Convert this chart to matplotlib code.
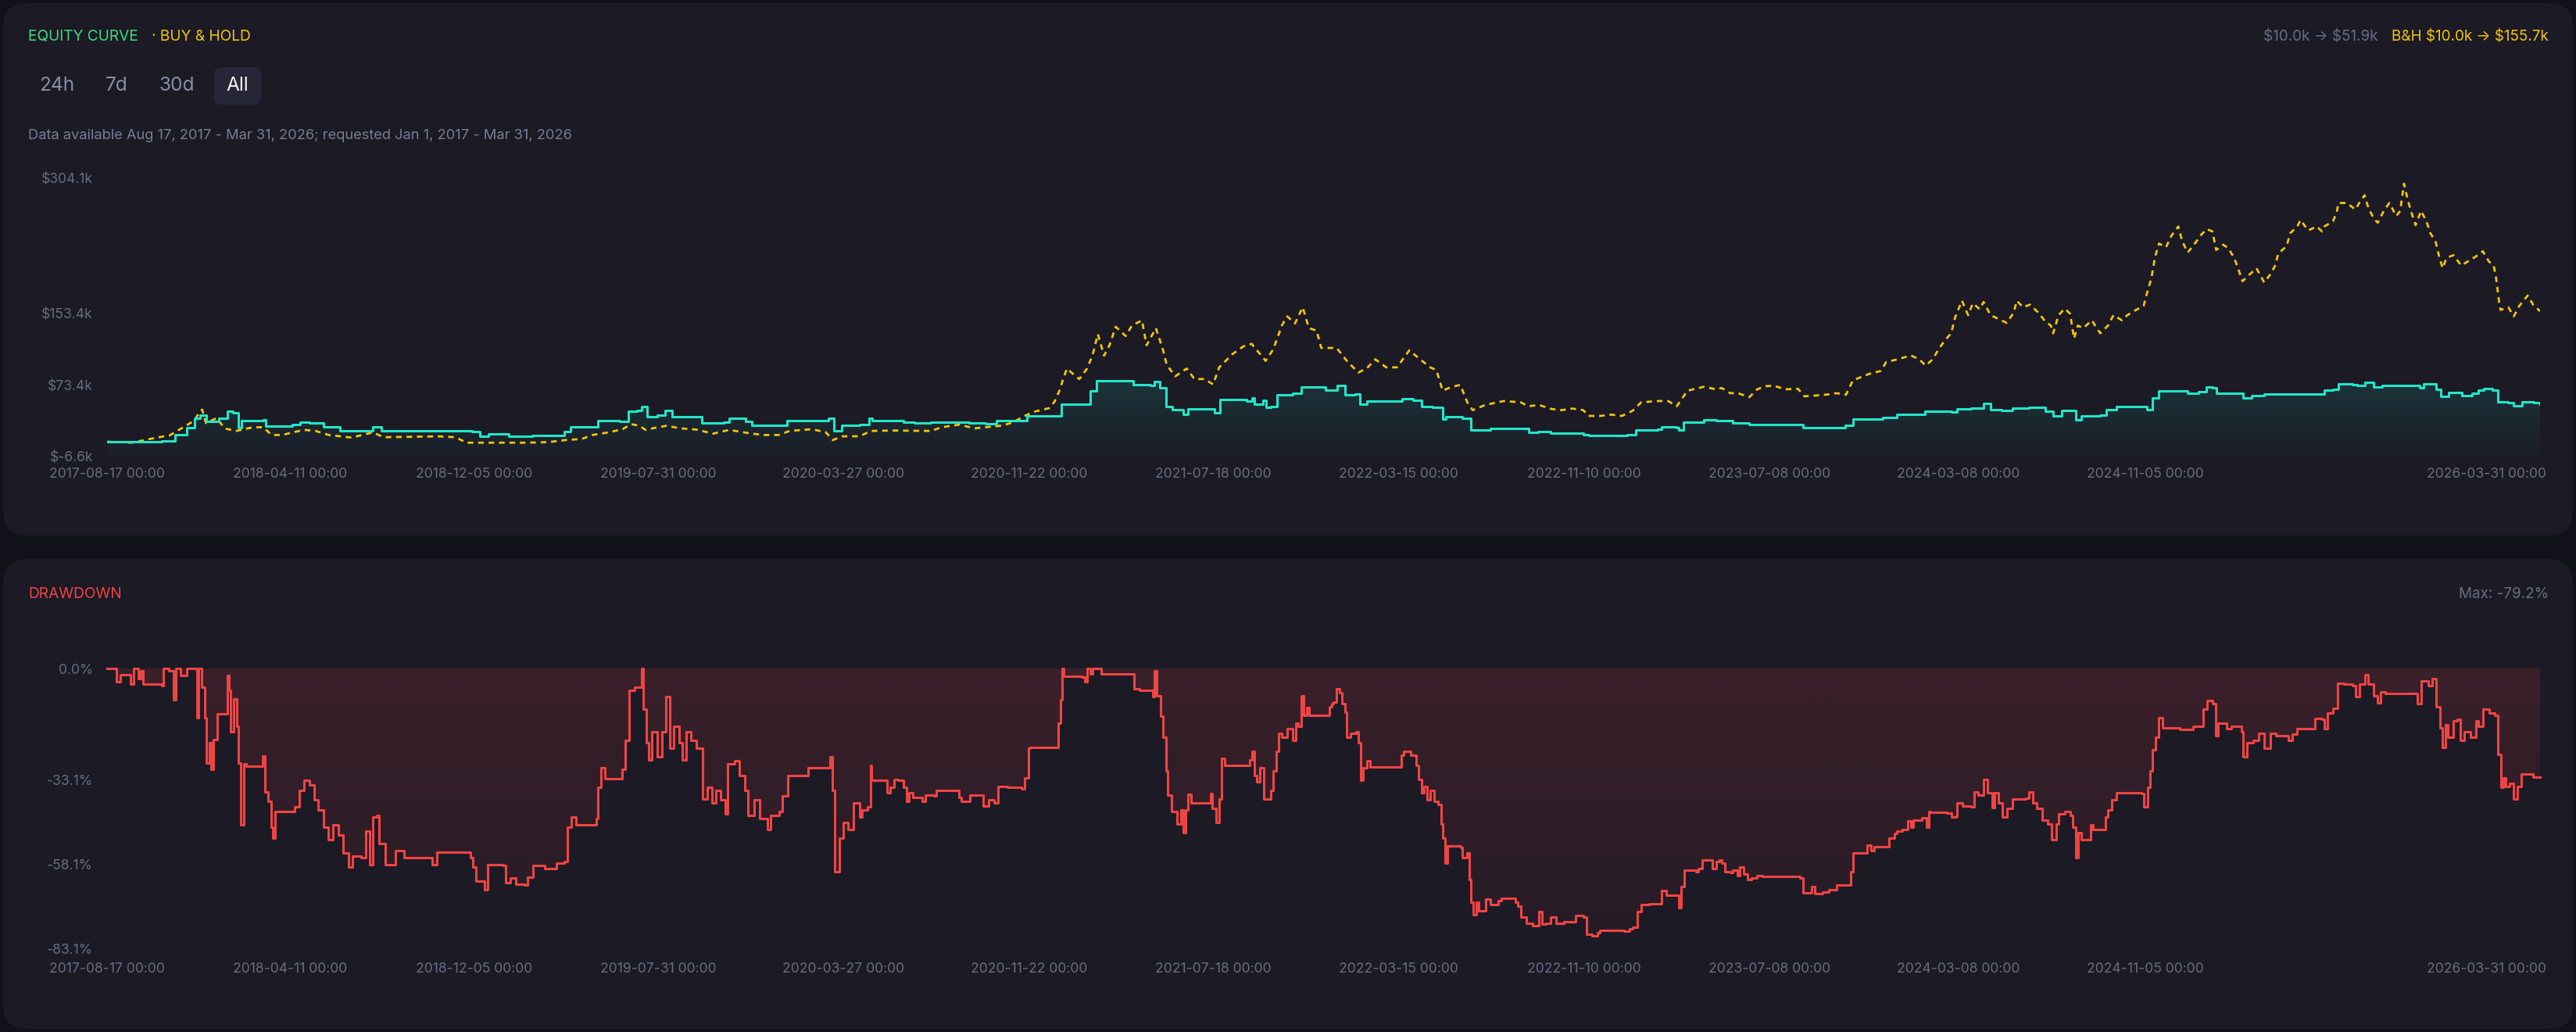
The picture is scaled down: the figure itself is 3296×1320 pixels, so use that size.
import numpy as np
import matplotlib
matplotlib.use('Agg')
import matplotlib.pyplot as plt
import matplotlib.dates as mdates
import matplotlib.colors as mcolors
import matplotlib.transforms as mtransforms
from matplotlib.patches import FancyBboxPatch, PathPatch

plt.rcParams['font.family'] = ['Inter', 'DejaVu Sans']
plt.rcParams['text.parse_math'] = False

# ---- data (days since first bar) ----
START = '2017-08-17'

eq_days = [0, 71, 88, 103, 113, 120, 128, 145, 156, 163,
           170, 174, 202, 205, 240, 250, 262, 280, 301, 330,
           344, 355, 422, 472, 482, 493, 511, 520, 550, 592,
           600, 631, 635, 663, 674, 686, 692, 699, 712, 722,
           731, 763, 770, 798, 805, 826, 834, 862, 880, 933,
           940, 951, 974, 986, 990, 1016, 1030, 1045, 1066, 1094,
           1115, 1137, 1151, 1179, 1190, 1225, 1235, 1264, 1272, 1280,
           1325, 1328, 1350, 1355, 1362, 1370, 1378, 1392, 1399, 1421,
           1433, 1440, 1474, 1481, 1485, 1496, 1500, 1506, 1514, 1534,
           1545, 1577, 1592, 1602, 1615, 1621, 1630, 1673, 1676, 1690,
           1701, 1715, 1728, 1732, 1754, 1765, 1790, 1825, 1839, 1852,
           1868, 1896, 1910, 1917, 1967, 1978, 2006, 2011, 2031, 2034,
           2040, 2055, 2066, 2082, 2103, 2125, 2188, 2194, 2224, 2249,
           2259, 2298, 2316, 2352, 2387, 2394, 2412, 2428, 2437, 2451,
           2465, 2487, 2508, 2518, 2529, 2540, 2547, 2554, 2579, 2587,
           2600, 2632, 2639, 2646, 2655, 2692, 2706, 2716, 2724, 2729,
           2756, 2764, 2775, 2791, 2834, 2869, 2880, 2887, 2905, 2911,
           2921, 2933, 2944, 2987, 2992, 2997, 3008, 3013, 3020, 3030,
           3040, 3047, 3060, 3068, 3075, 3086, 3093, 3107, 3114, 3125,
           3140, 3148]
eq_vals = [10.0, 11.0, 17.5, 26.0, 36.0, 40.0, 33.0, 36.0, 43.7, 42.0,
           26.0, 33.5, 34.0, 27.8, 29.0, 31.5, 31.0, 26.2, 22.3, 22.5,
           26.7, 22.0, 22.0, 21.5, 16.1, 19.0, 19.0, 16.5, 17.3, 21.5,
           26.2, 26.2, 33.5, 32.5, 43.8, 45.0, 49.5, 38.3, 40.0, 45.3,
           38.0, 38.0, 30.8, 32.0, 36.0, 33.0, 28.5, 28.5, 33.8, 35.8,
           22.4, 28.0, 29.0, 36.4, 33.5, 33.5, 31.5, 30.8, 31.5, 31.5,
           30.8, 30.0, 33.5, 33.5, 38.6, 38.6, 51.9, 51.9, 67.0, 78.1,
           78.1, 73.5, 73.0, 77.0, 70.0, 49.6, 46.0, 40.8, 47.0, 47.0,
           42.0, 56.8, 55.4, 59.0, 52.0, 56.0, 48.1, 49.0, 62.6, 64.0,
           71.3, 67.8, 72.7, 62.6, 63.0, 51.7, 55.0, 55.0, 58.0, 56.0,
           49.6, 48.0, 35.0, 37.8, 36.4, 23.3, 24.5, 24.7, 20.3, 21.5,
           19.6, 20.0, 18.2, 16.7, 17.5, 23.3, 23.8, 26.2, 25.6, 22.7,
           31.5, 31.5, 34.0, 33.5, 30.8, 29.4, 29.4, 25.6, 26.0, 28.6,
           35.0, 37.3, 40.2, 43.7, 43.0, 46.8, 47.5, 52.8, 46.0, 44.6,
           47.5, 48.4, 44.0, 38.8, 44.5, 44.5, 34.4, 39.0, 40.0, 46.0,
           49.0, 49.0, 46.0, 58.6, 66.5, 64.4, 65.5, 71.0, 70.5, 64.4,
           64.4, 58.6, 61.5, 63.0, 63.5, 67.3, 68.5, 74.7, 74.0, 72.7,
           76.2, 71.5, 72.7, 72.7, 70.0, 74.7, 75.0, 68.2, 60.9, 65.0,
           65.0, 61.6, 64.4, 67.3, 69.3, 67.3, 54.8, 53.4, 49.9, 54.8,
           54.0, 51.9]

bh_days = [0, 32, 64, 81, 96, 113, 118, 123, 128, 142,
           152, 167, 188, 202, 213, 227, 238, 255, 270, 287,
           316, 344, 358, 429, 451, 465, 543, 571, 592, 614,
           628, 649, 667, 678, 688, 697, 706, 724, 741, 763,
           784, 805, 827, 848, 869, 883, 912, 930, 939, 951,
           974, 988, 1016, 1066, 1080, 1102, 1123, 1158, 1172, 1187,
           1201, 1219, 1226, 1233, 1237, 1242, 1248, 1258, 1268, 1275,
           1282, 1290, 1297, 1305, 1318, 1326, 1339, 1345, 1357, 1366,
           1371, 1382, 1397, 1407, 1420, 1431, 1439, 1456, 1470, 1481,
           1499, 1509, 1520, 1527, 1537, 1547, 1555, 1565, 1571, 1591,
           1604, 1619, 1630, 1641, 1655, 1669, 1685, 1697, 1712, 1720,
           1728, 1740, 1751, 1760, 1767, 1783, 1807, 1829, 1839, 1853,
           1868, 1882, 1896, 1910, 1917, 1932, 1946, 1960, 1974, 1985,
           2006, 2020, 2031, 2038, 2045, 2066, 2082, 2089, 2100, 2110,
           2125, 2135, 2146, 2157, 2171, 2188, 2196, 2210, 2224, 2238,
           2250, 2259, 2270, 2281, 2295, 2302, 2316, 2334, 2345, 2353,
           2362, 2369, 2377, 2386, 2391, 2400, 2408, 2414, 2423, 2428,
           2437, 2451, 2458, 2467, 2471, 2479, 2488, 2499, 2508, 2515,
           2518, 2525, 2533, 2540, 2545, 2550, 2557, 2568, 2579, 2589,
           2596, 2607, 2614, 2625, 2635, 2640, 2645, 2650, 2655, 2664,
           2671, 2680, 2685, 2692, 2699, 2710, 2717, 2724, 2729, 2738,
           2745, 2752, 2756, 2763, 2770, 2781, 2791, 2800, 2806, 2809,
           2820, 2825, 2834, 2838, 2848, 2859, 2866, 2869, 2880, 2885,
           2887, 2898, 2909, 2914, 2921, 2926, 2933, 2938, 2946, 2953,
           2962, 2967, 2972, 2977, 2982, 2987, 2994, 3001, 3006, 3013,
           3017, 3022, 3027, 3036, 3046, 3054, 3065, 3074, 3082, 3088,
           3091, 3095, 3097, 3107, 3114, 3121, 3132, 3139, 3148]
bh_vals = [10.0, 8.9, 14.6, 17.0, 24.8, 33.5, 40.8, 45.9, 30.8, 36.5,
           24.8, 22.0, 26.0, 26.2, 17.5, 17.5, 20.0, 23.2, 22.0, 17.5,
           14.6, 20.4, 15.0, 16.0, 15.0, 8.9, 8.9, 9.5, 11.8, 13.0,
           17.5, 20.4, 24.0, 29.6, 28.0, 23.2, 25.0, 27.8, 25.0, 23.5,
           19.0, 23.2, 20.0, 17.5, 17.5, 22.0, 24.0, 20.5, 11.8, 16.0,
           16.1, 22.0, 22.5, 22.0, 26.2, 29.0, 25.0, 28.0, 31.5, 38.8,
           43.8, 47.5, 54.8, 68.5, 80.0, 91.7, 87.0, 79.9, 91.7, 106.3,
           130.1, 106.0, 117.7, 138.3, 128.0, 139.7, 145.5, 117.7, 136.8, 113.3,
           96.0, 83.0, 91.7, 79.9, 80.0, 74.0, 93.0, 107.7, 116.3, 119.2,
           100.3, 113.3, 139.7, 149.9, 142.0, 160.1, 136.8, 134.0, 114.7, 114.7,
           100.3, 87.2, 92.0, 102.0, 93.0, 93.0, 112.1, 103.3, 93.0, 90.0,
           67.0, 71.3, 73.4, 53.9, 45.2, 51.0, 55.4, 54.0, 49.6, 51.0,
           46.7, 45.2, 47.0, 45.2, 38.8, 38.8, 40.2, 38.8, 44.6, 54.0,
           55.4, 55.4, 49.6, 58.4, 67.0, 71.3, 68.5, 70.0, 64.2, 64.2,
           59.8, 68.5, 72.0, 72.5, 68.5, 69.0, 60.7, 61.5, 62.5, 64.2,
           62.5, 78.6, 82.3, 86.0, 89.0, 99.0, 101.8, 106.3, 101.8, 95.0,
           101.8, 112.0, 122.2, 131.0, 148.4, 167.4, 151.3, 164.5, 158.0, 166.0,
           151.3, 145.5, 142.6, 154.2, 167.4, 160.0, 163.0, 154.0, 144.0, 139.7,
           131.0, 151.3, 158.6, 152.8, 125.2, 139.7, 136.8, 145.5, 131.0, 139.7,
           151.3, 145.5, 151.3, 157.0, 161.5, 177.6, 192.1, 216.8, 231.3, 227.0,
           240.0, 250.3, 234.0, 221.2, 228.4, 241.5, 247.4, 244.7, 224.1, 230.0,
           225.6, 215.4, 206.7, 189.2, 195.0, 203.7, 187.8, 197.9, 208.0, 219.7,
           228.4, 243.0, 250.3, 257.5, 245.8, 250.3, 244.7, 250.3, 256.0, 266.2,
           276.5, 276.5, 269.2, 276.5, 285.2, 270.7, 259.0, 254.5, 268.0, 276.5,
           261.9, 267.7, 298.0, 279.3, 264.7, 251.8, 267.7, 256.0, 243.0, 232.8,
           218.2, 203.7, 215.4, 218.2, 206.7, 211.0, 216.8, 222.6, 211.0, 206.7,
           193.5, 166.0, 157.1, 160.0, 149.9, 161.5, 173.2, 163.0, 155.7]

dd_days = [0, 10, 12, 17, 28, 30, 34, 40, 43, 47,
           71, 73, 80, 86, 89, 95, 101, 103, 114, 116,
           118, 121, 122, 126, 128, 132, 134, 138, 143, 154,
           156, 158, 160, 164, 168, 170, 173, 177, 180, 199,
           201, 204, 208, 212, 214, 217, 240, 243, 249, 255,
           262, 268, 273, 280, 286, 292, 299, 305, 312, 318,
           329, 335, 340, 344, 349, 352, 360, 373, 384, 410,
           421, 427, 470, 473, 477, 488, 492, 513, 516, 522,
           529, 540, 544, 551, 566, 581, 592, 596, 601, 607,
           629, 633, 635, 639, 644, 661, 666, 670, 676, 683,
           688, 692, 694, 698, 701, 705, 712, 718, 723, 728,
           733, 740, 744, 749, 755, 762, 768, 771, 777, 783,
           788, 794, 800, 803, 812, 818, 825, 829, 837, 844,
           855, 859, 870, 874, 881, 902, 907, 933, 935, 938,
           941, 948, 953, 959, 966, 974, 977, 984, 988, 989,
           1006, 1009, 1013, 1018, 1023, 1030, 1034, 1038, 1043, 1055,
           1059, 1070, 1073, 1095, 1102, 1105, 1116, 1131, 1134, 1141,
           1148, 1153, 1165, 1180, 1183, 1187, 1192, 1194, 1229, 1231,
           1234, 1236, 1238, 1261, 1265, 1268, 1272, 1275, 1282, 1286,
           1325, 1329, 1336, 1350, 1353, 1355, 1358, 1363, 1366, 1370,
           1372, 1377, 1384, 1389, 1392, 1396, 1399, 1403, 1424, 1428,
           1430, 1435, 1439, 1442, 1446, 1474, 1478, 1481, 1485, 1488,
           1492, 1497, 1502, 1506, 1509, 1513, 1516, 1520, 1527, 1534,
           1538, 1541, 1545, 1548, 1552, 1555, 1580, 1582, 1585, 1587,
           1591, 1595, 1598, 1602, 1604, 1609, 1616, 1619, 1622, 1625,
           1630, 1634, 1673, 1675, 1678, 1687, 1694, 1697, 1701, 1704,
           1708, 1712, 1717, 1722, 1726, 1728, 1731, 1734, 1751, 1754,
           1760, 1763, 1765, 1768, 1772, 1775, 1781, 1784, 1790, 1800,
           1804, 1822, 1825, 1829, 1836, 1845, 1850, 1853, 1857, 1862,
           1868, 1875, 1885, 1896, 1900, 1910, 1914, 1921, 1928, 1931,
           1963, 1970, 1974, 1980, 1985, 1995, 2009, 2011, 2017, 2031,
           2034, 2037, 2041, 2056, 2059, 2064, 2073, 2077, 2082, 2086,
           2089, 2093, 2100, 2103, 2109, 2112, 2118, 2123, 2128, 2135,
           2142, 2185, 2190, 2194, 2203, 2206, 2210, 2220, 2228, 2235,
           2238, 2250, 2256, 2259, 2270, 2277, 2282, 2286, 2302, 2306,
           2313, 2316, 2323, 2330, 2334, 2337, 2348, 2354, 2357, 2359,
           2380, 2387, 2393, 2394, 2401, 2412, 2416, 2421, 2428, 2433,
           2439, 2442, 2447, 2452, 2458, 2465, 2483, 2487, 2492, 2497,
           2504, 2511, 2516, 2522, 2525, 2533, 2540, 2543, 2547, 2550,
           2554, 2565, 2567, 2570, 2582, 2586, 2589, 2594, 2600, 2632,
           2635, 2640, 2643, 2646, 2650, 2655, 2660, 2682, 2696, 2699,
           2708, 2712, 2717, 2724, 2728, 2731, 2742, 2749, 2762, 2764,
           2769, 2777, 2784, 2791, 2799, 2806, 2820, 2822, 2827, 2834,
           2841, 2855, 2857, 2866, 2869, 2873, 2880, 2886, 2894, 2905,
           2909, 2914, 2921, 2926, 2933, 2938, 2942, 2948, 2987, 2989,
           2994, 3003, 3008, 3013, 3019, 3022, 3026, 3029, 3036, 3041,
           3045, 3050, 3058, 3065, 3068, 3074, 3082, 3089, 3093, 3097,
           3100, 3104, 3109, 3114, 3119, 3124, 3136, 3139, 3148]
dd_vals = [0.0, 0.0, -3.9, -1.8, -1.8, -4.7, 0.0, -3.0, -0.7, -4.7,
           -5.0, 0.0, -0.7, -9.3, 0.0, -2.0, -2.0, 0.0, 0.0, -14.6,
           0.0, 0.0, -5.5, -14.6, -27.9, -22.0, -29.9, -21.0, -13.4, -13.4,
           -2.0, -6.4, -18.8, -9.0, -17.2, -27.9, -46.4, -28.3, -29.0, -29.0,
           -26.0, -36.5, -39.4, -46.9, -50.2, -42.3, -42.3, -41.0, -36.1, -33.2,
           -34.6, -39.0, -41.9, -46.9, -50.6, -46.4, -49.3, -54.7, -58.8, -55.5,
           -56.0, -48.1, -58.0, -44.0, -43.6, -51.8, -58.0, -53.9, -56.0, -56.1,
           -58.0, -54.3, -56.1, -58.8, -63.0, -65.5, -58.0, -58.4, -63.4, -62.1,
           -64.0, -64.2, -61.7, -58.4, -59.3, -57.6, -57.2, -46.9, -44.0, -46.4,
           -46.4, -44.4, -35.3, -29.5, -32.6, -32.6, -29.9, -21.2, -6.4, -5.5,
           -5.5, 0.0, -12.1, -22.0, -27.0, -18.8, -26.2, -18.8, -8.4, -23.7,
           -17.1, -22.0, -27.0, -18.8, -21.2, -23.7, -23.7, -38.6, -35.3, -39.8,
           -36.1, -39.0, -43.1, -28.3, -27.4, -31.6, -36.1, -43.6, -39.0, -44.4,
           -47.7, -43.6, -42.3, -37.8, -31.6, -31.6, -29.5, -29.3, -26.2, -36.1,
           -60.1, -50.2, -45.6, -47.7, -39.8, -44.0, -41.9, -41.0, -28.7, -33.2,
           -33.2, -36.9, -35.2, -32.8, -33.2, -35.2, -39.4, -36.9, -38.2, -39.4,
           -37.4, -37.8, -36.1, -36.1, -38.2, -39.4, -37.6, -37.6, -40.7, -39.0,
           -39.8, -34.9, -35.1, -35.3, -35.7, -32.4, -23.7, -23.3, -23.3, -16.3,
           -9.3, 0.0, -2.4, -2.5, -4.0, 0.0, -1.6, 0.0, 0.0, -1.6,
           -1.6, -6.0, -6.5, -6.5, -8.4, -0.7, -8.0, -14.2, -20.4, -30.3,
           -37.4, -42.3, -46.0, -41.9, -48.5, -41.9, -37.2, -39.8, -39.8, -37.0,
           -41.5, -45.6, -38.6, -26.6, -28.7, -28.7, -27.1, -24.5, -31.6, -33.6,
           -29.5, -38.6, -38.6, -36.1, -30.3, -24.5, -19.2, -20.4, -17.9, -21.2,
           -16.3, -17.1, -8.0, -13.8, -11.5, -13.8, -13.8, -11.3, -10.5, -10.0,
           -6.0, -7.2, -10.5, -13.0, -20.4, -19.2, -18.8, -22.0, -33.2, -29.5,
           -27.4, -29.1, -29.1, -25.8, -24.5, -25.8, -28.7, -32.8, -36.9, -34.9,
           -39.0, -36.1, -39.4, -40.3, -46.0, -50.2, -57.6, -52.6, -53.0, -56.0,
           -54.7, -62.6, -69.2, -72.9, -69.2, -71.7, -71.7, -68.3, -70.0, -68.8,
           -68.0, -69.2, -70.4, -73.7, -75.4, -76.2, -76.2, -72.1, -75.8, -75.4,
           -73.7, -75.4, -75.0, -75.0, -73.1, -73.7, -78.7, -79.2, -78.3, -77.6,
           -77.8, -77.0, -76.6, -72.1, -70.0, -69.6, -69.6, -65.7, -67.1, -67.1,
           -70.8, -64.6, -59.7, -60.1, -59.3, -56.8, -56.8, -59.3, -57.2, -56.8,
           -57.6, -60.1, -60.5, -59.7, -61.3, -58.8, -60.9, -62.6, -62.1, -61.3,
           -61.5, -61.5, -62.1, -66.5, -66.5, -64.6, -66.7, -66.3, -65.5, -65.5,
           -64.2, -64.2, -60.1, -54.7, -54.7, -52.2, -53.9, -52.8, -52.8, -50.2,
           -48.9, -48.1, -47.7, -45.2, -46.9, -44.8, -44.2, -46.9, -42.3, -42.7,
           -42.9, -44.0, -43.7, -39.8, -40.7, -40.9, -36.5, -37.4, -32.8, -36.9,
           -41.1, -36.9, -39.8, -44.0, -41.5, -38.6, -38.4, -36.5, -39.8, -41.5,
           -44.8, -46.0, -50.6, -46.0, -43.1, -42.3, -43.6, -46.9, -56.0, -48.5,
           -50.6, -50.6, -46.4, -47.7, -47.7, -44.0, -41.9, -39.0, -36.8, -37.0,
           -40.9, -35.3, -30.3, -24.1, -20.4, -14.6, -17.5, -18.1, -18.1, -17.1,
           -17.1, -12.1, -9.5, -10.5, -20.0, -16.3, -17.9, -17.1, -18.8, -26.2,
           -22.0, -21.2, -19.2, -23.7, -19.2, -20.0, -20.0, -21.2, -19.4, -17.9,
           -17.8, -17.9, -14.8, -15.1, -17.8, -13.1, -11.7, -4.5, -4.6, -5.0,
           -8.4, -4.6, -1.8, -4.6, -8.0, -10.1, -7.0, -7.4, -7.4, -10.5,
           -3.7, -5.1, -3.1, -11.3, -17.5, -23.3, -16.7, -20.4, -15.5, -15.1,
           -21.2, -18.8, -20.4, -15.5, -17.1, -12.1, -13.1, -13.8, -25.4, -35.3,
           -32.4, -34.9, -34.1, -38.6, -34.9, -31.2, -31.2, -32.1, -32.1]

tick_dates = ['2017-08-17', '2018-04-11', '2018-12-05', '2019-07-31', '2020-03-27',
              '2020-11-22', '2021-07-18', '2022-03-15', '2022-11-10', '2023-07-08',
              '2024-03-08', '2024-11-05', '2026-03-31']
eq_yticks = [-6.6, 73.4, 153.4, 304.1]
dd_yticks = [0.0, -33.1, -58.1, -83.1]

# ---- colours ----
BG = '#111119'
PANEL = '#1b1a25'
MUTED = '#6c6b82'
CYAN = '#22e6c8'
GOLD = '#f2c40c'
RED = '#ef4444'
GREEN = '#3fdc7f'

W, H = 3296, 1320


def to_x(days):
    d = np.datetime64(START) + np.asarray(days).astype('timedelta64[D]')
    return mdates.date2num(d)


def gradient_fill(ax, x, y, base, color, a_top, a_bot, y_top, y_bot):
    coll = ax.fill_between(x, y, base, step='post', facecolor='none', edgecolor='none', lw=0)
    patch = PathPatch(coll.get_paths()[0], transform=ax.transData, facecolor='none', edgecolor='none')
    ax.add_patch(patch)
    img = np.zeros((256, 1, 4))
    img[:, 0, :3] = mcolors.to_rgb(color)
    img[:, 0, 3] = np.linspace(a_top, a_bot, 256)
    im = ax.imshow(img, aspect='auto', origin='upper', extent=[x[0], x[-1], y_bot, y_top],
                   interpolation='bilinear', zorder=1)
    im.set_clip_path(patch)


def px_axes(x0, y0, x1, y1):
    ax = fig.add_axes([x0 / W, 1 - y1 / H, (x1 - x0) / W, (y1 - y0) / H])
    ax.set_facecolor('none')
    ax.set_zorder(2)
    for s in ax.spines.values():
        s.set_visible(False)
    return ax


fig = plt.figure(figsize=(W / 200, H / 200), dpi=200, facecolor=BG)

# canvas in pixel coords for panels and header text
cv = fig.add_axes([0, 0, 1, 1])
cv.set_xlim(0, W)
cv.set_ylim(H, 0)
cv.axis('off')
cv.set_zorder(0)
for (x0, y0, x1, y1) in [(4, 4, 3292, 685), (4, 715, 3292, 1316)]:
    cv.add_patch(FancyBboxPatch((x0, y0), x1 - x0, y1 - y0, boxstyle='round,pad=0,rounding_size=30',
                                fc=PANEL, ec='none'))

cv.text(36, 47, 'EQUITY CURVE', color=GREEN, fontsize=6.9, va='center', ha='left')
cv.text(194, 47, '· BUY & HOLD', color=GOLD, fontsize=6.9, va='center', ha='left')
cv.text(3043, 47, '$10.0k → $51.9k', color=MUTED, fontsize=6.8, va='center', ha='right')
cv.text(3261, 47, 'B&H $10.0k → $155.7k', color=GOLD, fontsize=6.8, va='center', ha='right')

cv.add_patch(FancyBboxPatch((274, 86), 60, 48, boxstyle='round,pad=0,rounding_size=9',
                            fc='#272637', ec='none'))
for label, xc in zip(['24h', '7d', '30d', 'All'], [73, 149, 226, 304]):
    cv.text(xc, 110, label, color='#f2f2f7' if label == 'All' else '#8d8ca5', fontsize=8.8,
            va='center', ha='center')

cv.text(36, 174, 'Data available Aug 17, 2017 - Mar 31, 2026; requested Jan 1, 2017 - Mar 31, 2026',
        color='#7c7b93', fontsize=6.6, va='center', ha='left')

cv.text(36, 760, 'DRAWDOWN', color=RED, fontsize=6.9, va='center', ha='left')
cv.text(3261, 760, 'Max: -79.2%', color=MUTED, fontsize=6.8, va='center', ha='right')

xe = to_x(eq_days)
xb = to_x(bh_days)
xd = to_x(dd_days)
xt = to_x([(np.datetime64(d) - np.datetime64(START)).astype(int) for d in tick_dates])
xlim = (to_x([0])[0], to_x([eq_days[-1]])[0])

# ---- equity panel ----
ax1 = px_axes(137, 228, 3250, 584)
gradient_fill(ax1, xe, eq_vals, eq_yticks[0], CYAN, 0.13, 0.02, max(eq_vals), eq_yticks[0])
ax1.plot(xb, bh_vals, color=GOLD, lw=1.0, dashes=(2.6, 2.2), zorder=3)
ax1.plot(xe, eq_vals, color=CYAN, lw=1.1, drawstyle='steps-post', zorder=4)
ax1.set_ylim(eq_yticks[0], eq_yticks[-1])
ax1.set_yticks(eq_yticks)
ax1.set_yticklabels(['$%.1fk' % v for v in eq_yticks])
ax1.tick_params(axis='y', length=0, labelsize=6.3, labelcolor=MUTED, pad=6.5)
ax1.tick_params(axis='x', length=0, labelsize=6.3, labelcolor=MUTED, pad=5.2)

# ---- drawdown panel ----
ax2 = px_axes(137, 855, 3250, 1214)
gradient_fill(ax2, xd, dd_vals, 0.0, RED, 0.15, 0.05, 0.0, dd_yticks[-1])
ax2.plot(xd, dd_vals, color=RED, lw=1.1, drawstyle='steps-post', zorder=4, clip_on=False)
ax2.set_ylim(dd_yticks[-1], 0)
ax2.set_yticks(dd_yticks)
ax2.set_yticklabels(['%.1f%%' % v for v in dd_yticks])
ax2.tick_params(axis='y', length=0, labelsize=6.3, labelcolor=MUTED, pad=6.5)
ax2.tick_params(axis='x', length=0, labelsize=6.3, labelcolor=MUTED, pad=6.2)

shift = mtransforms.ScaledTranslation(8 / 200, 0, fig.dpi_scale_trans)
for ax in (ax1, ax2):
    ax.set_xlim(*xlim)
    ax.set_xticks(xt)
    ax.set_xticklabels([d + ' 00:00' for d in tick_dates])
    last = ax.get_xticklabels()[-1]
    last.set_horizontalalignment('right')
    last.set_transform(last.get_transform() + shift)

fig.savefig('out.png', dpi=200, facecolor=BG)
